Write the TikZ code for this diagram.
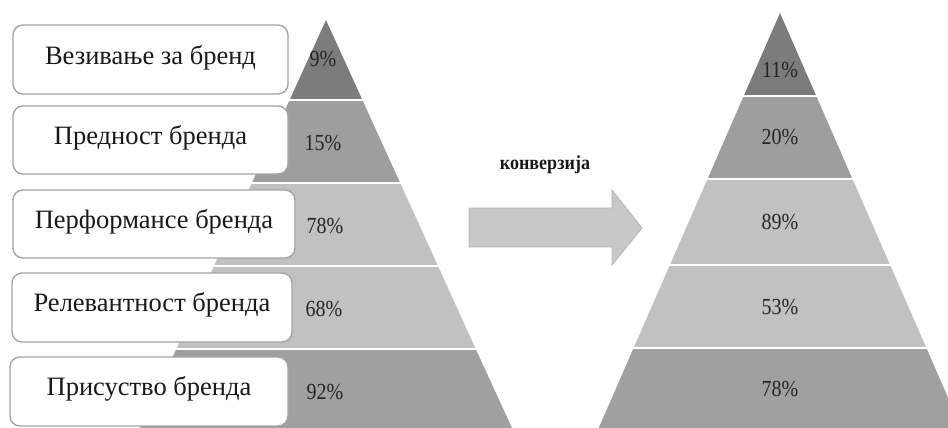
\documentclass[tikz,border=0pt]{standalone}
\usepackage{fontspec}
\setmainfont{Liberation Serif}
\newfontfamily\pctfont[FakeStretch=0.87]{Liberation Serif}
\newfontfamily\boldcond[FakeStretch=0.9]{Liberation Serif Bold}
\definecolor{bandA}{HTML}{7C7C7C}
\definecolor{bandB}{HTML}{9E9E9E}
\definecolor{bandC}{HTML}{C1C1C1}
\definecolor{bandD}{HTML}{A0A0A0}
\definecolor{boxline}{HTML}{A4A4A4}
\definecolor{arrowfill}{HTML}{C8C8C8}
\definecolor{arrowline}{HTML}{B6B6B6}
\definecolor{pcttext}{HTML}{262626}
\tikzset{
  labelbox/.style={draw=boxline, line width=1.4pt, fill=white, rounded corners=10pt},
  labeltext/.style={font=\fontsize{26.5}{29}\selectfont, text=black!90},
  pct/.style={font=\pctfont\fontsize{23}{25}\selectfont, text=pcttext, inner sep=0pt},
  sep/.style={white, line width=2pt},
}
\begin{document}
\begin{tikzpicture}[x=1pt,y=-1pt]
\useasboundingbox (0,0) rectangle (948,428);
\begin{scope}
\clip (0,0) rectangle (948,428);
% left pyramid: apex (326,20), half-width 0.455 per unit of depth
\fill[bandA] (326,20) -- (362.4,100) -- (289.6,100) -- cycle;
\fill[bandB] (289.6,100) -- (362.4,100) -- (400.2,183) -- (251.8,183) -- cycle;
\fill[bandC] (251.8,183) -- (400.2,183) -- (438,266) -- (214,266) -- cycle;
\fill[bandC] (214,266) -- (438,266) -- (475.7,349) -- (176.3,349) -- cycle;
\fill[bandD] (176.3,349) -- (475.7,349) -- (512,428) -- (140,428) -- cycle;
\draw[sep] (280,100) -- (372,100);
\draw[sep] (240,183) -- (412,183);
\draw[sep] (200,266) -- (452,266);
\draw[sep] (160,349) -- (492,349);
% right pyramid: apex (780,13), half-width 0.437 per unit of depth
\fill[bandA] (780,13) -- (816.3,96) -- (743.7,96) -- cycle;
\fill[bandB] (743.7,96) -- (816.3,96) -- (852.5,179) -- (707.5,179) -- cycle;
\fill[bandC] (707.5,179) -- (852.5,179) -- (890.1,265) -- (669.9,265) -- cycle;
\fill[bandC] (669.9,265) -- (890.1,265) -- (926.4,348) -- (633.6,348) -- cycle;
\fill[bandD] (633.6,348) -- (926.4,348) -- (961.3,428) -- (598.7,428) -- cycle;
\draw[sep] (735,96) -- (825,96);
\draw[sep] (698,179) -- (862,179);
\draw[sep] (660,265) -- (900,265);
\draw[sep] (624,348) -- (936,348);
\end{scope}
% label boxes
\draw[labelbox] (13,25) rectangle (288,94);
\draw[labelbox] (13,106) rectangle (288,174);
\draw[labelbox] (13,190) rectangle (295,258);
\draw[labelbox] (12,273) rectangle (292,342);
\draw[labelbox] (10,357) rectangle (288,426);
\node[labeltext] (l1) at (150.5,58) {Везивање за бренд};
\node[labeltext] (l2) at (150.5,138) {Предност бренда};
\node[labeltext] (l3) at (154,222) {Перформансе бренда};
\node[labeltext] (l4) at (152,305) {Релевантност бренда};
\node[labeltext] (l5) at (149,389) {Присуство бренда};
% left percentages
\node[pct] (p1) at (323,59) {9\%};
\node[pct] (p2) at (323,143) {15\%};
\node[pct] (p3) at (325,226) {78\%};
\node[pct] (p4) at (324,309) {68\%};
\node[pct] (p5) at (325,392) {92\%};
% right percentages
\node[pct] (q1) at (780,70) {11\%};
\node[pct] (q2) at (780,137) {20\%};
\node[pct] (q3) at (780,222) {89\%};
\node[pct] (q4) at (780,307) {53\%};
\node[pct] (q5) at (780,389) {78\%};
% conversion arrow
\draw[fill=arrowfill, draw=arrowline, line width=0.8pt, line join=miter]
  (469,208) -- (612,208) -- (612,190) -- (642,228) -- (612,265) -- (612,247) -- (469,247) -- cycle;
\node[font=\boldcond\fontsize{20}{22}\selectfont, text=black!90] (conv) at (545,165) {конверзија};
\end{tikzpicture}
\end{document}
